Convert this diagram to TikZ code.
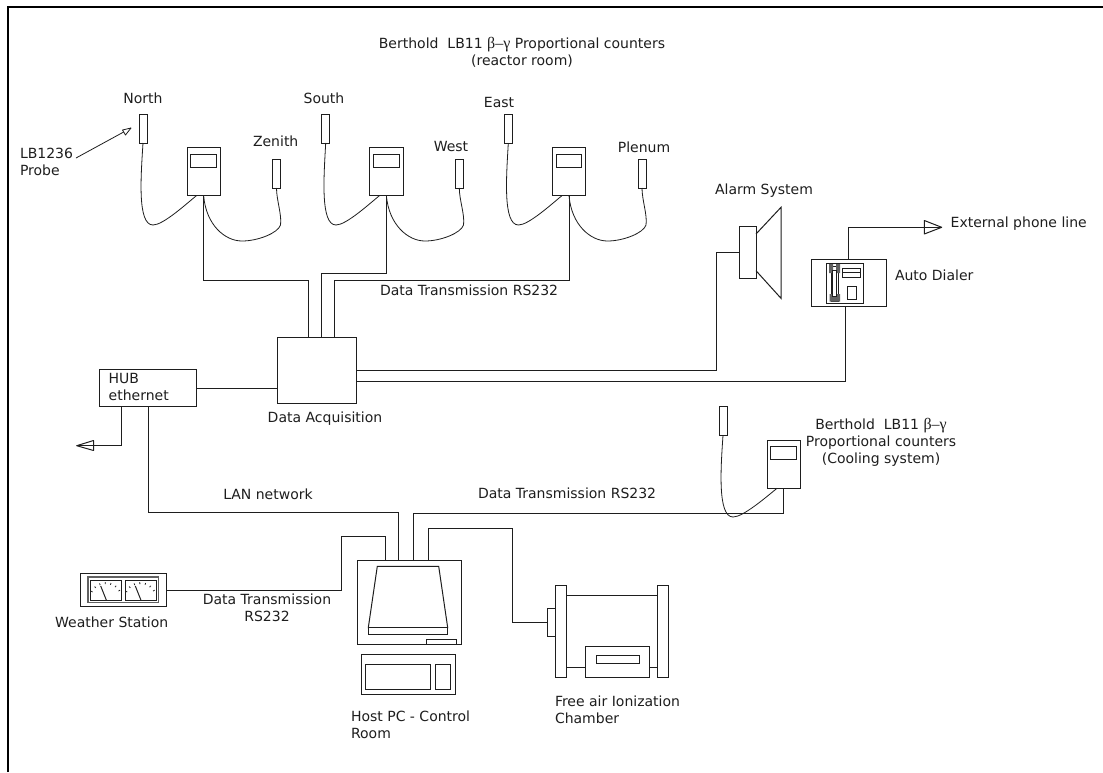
\documentclass[tikz,border=0pt]{standalone}
\usepackage{fontspec}
\setmainfont{DejaVu Sans}
\newfontfamily\grk{Liberation Serif}
\usetikzlibrary{calc}
\definecolor{ink}{RGB}{30,30,30}
\newcommand{\bx}[6][boxs]{\node[#1,minimum width={(#5-#3)*0.75pt},minimum height={(#6-#4)*0.75pt}] (#2) at ({(#3+#5)/2},{(#4+#6)/2}) {};}
\newcommand{\bg}{{\grk\fontsize{12pt}{12pt}\selectfont β–γ}}
\tikzset{
  boxs/.style={draw=ink,fill=white,inner sep=0pt,outer sep=0pt,line width=0.75pt},
  wire/.style={draw=ink,line width=0.75pt,line join=miter},
  thin wire/.style={draw=ink,line width=0.6pt},
  lbl/.style={text=ink,font=\fontsize{10.5pt}{12.75pt}\selectfont,inner sep=0pt,outer sep=0pt},
  lbll/.style={lbl,anchor=west,align=left},
  lblc/.style={lbl,align=center},
}
\begin{document}
\begin{tikzpicture}[x=0.75pt,y=-0.75pt]
\useasboundingbox (0,0) rectangle (1103,772);
\fill[white] (0,0) rectangle (1103,772);
% frame
\draw[black,line width=1.6pt] (8,772) -- (8,7) -- (1103,7);

% probes and counters
\bx{north}{139}{114}{147}{143}
\bx{zenith}{272.5}{159}{280.5}{188}
\bx{south}{321.7}{114}{329.7}{143}
\bx{west}{455.3}{159}{463.3}{188}
\bx{east}{504.3}{114}{512.3}{143}
\bx{plenum}{638}{159}{646}{188}
\bx{probeC}{719}{406.3}{727}{435.3}
\bx{cA}{187}{147.3}{220.3}{195.6}
\bx{cAs}{190.5}{154}{216.3}{167}
\bx{cB}{369.7}{147.3}{403}{195.6}
\bx{cBs}{373.2}{154}{399}{167}
\bx{cC}{552.3}{147.3}{585.7}{195.6}
\bx{cCs}{556}{154}{581.7}{167}
\bx{cD}{767}{440.3}{800.3}{488.3}
\bx{cDs}{770.7}{446.3}{796.7}{459.7}

% main boxes
\bx{da}{277.7}{337.7}{356.3}{403.7}
\bx{hub}{99.3}{369.7}{196.3}{406.3}
\bx{dial}{811.7}{259}{886.3}{306.7}
\bx{pc}{357}{560}{461.3}{644.3}
\bx{kbd}{361}{654.7}{455.3}{694.7}
\bx{wx}{80.3}{573.7}{166}{606.3}

% ports
\coordinate (daA) at (308,337.7);
\coordinate (daB) at (321,337.7);
\coordinate (daC) at (334,337.7);
\coordinate (daD) at (356.3,370.8);
\coordinate (daE) at (356.3,381.7);
\coordinate (daF) at (277.7,388);
\coordinate (hubR) at (196.3,388);
\coordinate (hubA) at (121.3,406.3);
\coordinate (hubB) at (148,406.3);
\coordinate (pcA) at (385.7,560);
\coordinate (pcB) at (398,560);
\coordinate (pcC) at (413.7,560);
\coordinate (pcD) at (428.7,560);
\coordinate (alarmIn) at (739.7,252.3);
\coordinate (dialIn) at (845.3,306.7);
\coordinate (dialOut) at (848.7,259);
\coordinate (wxOut) at (166,590);
\coordinate (chIn) at (547.3,622);
\coordinate (tipE) at (941.7,227.3);
\coordinate (tipW) at (76.7,445.7);

% probe cables
\draw[thin wire] (north.south) .. controls (141,175) and (137,225) .. (153,225) .. controls (163,225) and (185,205) .. (196.5,195.6);
\draw[thin wire] (cA.south) .. controls (206,225) and (225,241) .. (242,241) .. controls (258,241) and (278,233) .. (280.5,225) .. controls (282,215) and (276.5,200) .. (zenith.south);
\draw[thin wire] (south.south) .. controls (324,175) and (320,225) .. (336,225) .. controls (346,225) and (368,205) .. (379.5,195.6);
\draw[thin wire] (cB.south) .. controls (389,225) and (408,241) .. (425,241) .. controls (441,241) and (461,233) .. (463.5,225) .. controls (465,215) and (459.3,200) .. (west.south);
\draw[thin wire] (east.south) .. controls (506.5,175) and (502.5,225) .. (518.5,225) .. controls (528.5,225) and (550.5,205) .. (562,195.6);
\draw[thin wire] (cC.south) .. controls (571.5,225) and (590.5,241) .. (607.5,241) .. controls (623.5,241) and (643.5,233) .. (646,225) .. controls (647.5,215) and (642,200) .. (plenum.south);
\draw[thin wire] (probeC.south) .. controls (721,465) and (717,517) .. (733,517) .. controls (743,517) and (765,498) .. (777,488.3);

% data wires
\draw[wire] (cA.south) -- ++(0,84.4) -| (daA);
\draw[wire] (cB.south) -- ++(0,78.1) -| (daB);
\draw[wire] (cC.south) -- ++(0,84.4) -| (daC);
\draw[wire] (hubR) -- (daF);
\draw[wire] (daD) -| (716,252.3) -- (alarmIn);
\draw[wire] (daE) -| (dialIn);
\draw[wire] (hubB) |- (398,512) -- (pcB);
\draw[wire] (cD.south) |- (413.7,513.7) -- (pcC);
\draw[wire] (pcA) |- (341.7,536.7) |- (wxOut);
\draw[wire] (pcD) |- (512.7,528.7) |- (chIn);
\draw[wire] (hubA) |- (tipW);
\draw[wire] (dialOut) |- (tipE);
% open arrows
\draw[wire,line join=round] (tipE) -- (924.3,220.5) -- (924.3,234) -- cycle;
\draw[wire,line join=round] (tipW) -- (93.5,440.5) -- (93.5,450.5) -- cycle;
% probe pointer
\coordinate (lbTail) at (76,158);
\coordinate (lbTip) at (131,128);
\draw[thin wire] (lbTail) -- (lbTip);
\draw[thin wire,fill=white,line join=round] (lbTip) -- (122.5,130) -- (125.5,135) -- cycle;

% alarm
\bx{alarm}{739.7}{226.7}{756}{278.3}
\draw[wire] (756,234) -- (781,207.3) -- (781,298.3) -- (756,270.7);

% dialer phone
\bx{phone}{826.7}{263}{863}{303}
\bx{hand}{831}{266}{838.3}{301}
\fill[ink!70] (829,264) rectangle (833,273) (836,264) rectangle (840,273) (829.5,294) rectangle (840,301.5);
\bx{hstem}{832.5}{270}{836.5}{296}
\bx{keys}{842.7}{268.7}{860.7}{277}
\draw[thin wire] (keys.west) -- (keys.east);
\bx{slot}{847.7}{286.7}{856}{299}

% pc
\draw[wire,fill=white] (377.3,566.3) -- (438.7,566.3) -- (447.7,627.7) -- (368.3,627.7) -- cycle;
\bx{mbase}{368.3}{627.7}{447.7}{634.3}
\bx{drive}{426.3}{639.3}{456.3}{644.3}
\bx{kA}{365.7}{664.7}{430.7}{689.7}
\bx{kB}{435.7}{664.7}{450.3}{689.7}

% chamber
\bx{flL}{555}{585.3}{566.3}{677.3}
\bx{flR}{657.3}{585.3}{668.3}{677.3}
\bx{chBox}{547.3}{608.3}{555}{636}
\bx{chMid}{585.7}{646.3}{649.3}{677.3}
\bx{chIn2}{596.3}{655}{639}{663}
\draw[wire] (566.3,595.7) -- (657.3,595.7);
\draw[wire] (566.3,667) -- (585.7,667);
\draw[wire] (649.3,667) -- (657.3,667);

% weather
\draw[draw=ink!70,line width=1pt] (88,577) rectangle (158.3,602.7);
\bx{gA}{90}{580}{121.7}{600}
\bx{gB}{125}{580}{156}{600}
\foreach \g in {0,34.6}{
  \draw[ink,line width=0.75pt] ({106.3+\g},600) -- ({100.7+\g},586);
  \foreach \a in {-62,-42,-22,-2,18,38,58}{
    \draw[ink,line width=0.6pt] ({105.8+\g+sin(\a)*15},{599-cos(\a)*15}) -- ({105.8+\g+sin(\a)*16.8},{599-cos(\a)*16.8});
  }
}

% labels
\node[lblc] (tTitle) at (522,52.5) {Berthold\ \ LB11 \bg\ Proportional counters\\(reactor room)};
\node[lbl] (tN) at (143,98) {North};
\node[lbl] (tS) at (324,98) {South};
\node[lbl] (tZ) at (275.7,141) {Zenith};
\node[lbl] (tW) at (451,146) {West};
\node[lbl] (tE) at (499,102) {East};
\node[lbl] (tP) at (644,147) {Plenum};
\node[lbll] (tLB) at (20,162) {LB1236\\Probe};
\node[lbl] (tAl) at (764,191) {Alarm System};
\node[lbll] (tExt) at (950.7,224) {External phone line};
\node[lbll] (tAD) at (895,275) {Auto Dialer};
\node[lblc] (tCool) at (881,442) {Berthold\ \ LB11 \bg\\Proportional counters\\(Cooling system)};
\node[lbl] (tDA) at (325,419) {Data Acquisition};
\node[lbll] (tHub) at (108.7,387) {HUB\\ethernet};
\node[lbl] (tLAN) at (268,494) {LAN network};
\node[lbll] (tRSa) at (380,290) {Data Transmission RS232};
\node[lbll] (tRSb) at (478,493) {Data Transmission RS232};
\node[lblc] (tRSc) at (267,607.5) {Data Transmission\\RS232};
\node[lbl] (tWx) at (111.7,622) {Weather Station};
\node[lbll] (tPC) at (351,724.5) {Host PC - Control\\Room};
\node[lbll] (tCh) at (555,709.5) {Free air Ionization\\Chamber};
\end{tikzpicture}
\end{document}
